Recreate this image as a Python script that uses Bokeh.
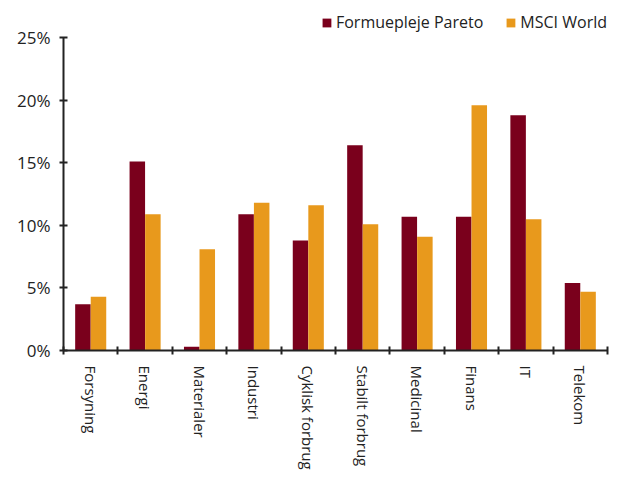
import numpy as np
from bokeh.plotting import figure
from bokeh.models import ColumnDataSource, FixedTicker, PrintfTickFormatter, Legend, LegendItem, Range1d
from bokeh.transform import dodge
from bokeh.embed import file_html
from bokeh.resources import INLINE

categories = ["Forsyning", "Energi", "Materialer", "Industri", "Cyklisk forbrug",
              "Stabilt forbrug", "Medicinal", "Finans", "IT", "Telekom"]
pareto = [3.7, 15.1, 0.3, 10.9, 8.8, 16.4, 10.7, 10.7, 18.8, 5.4]
msci = [4.3, 10.9, 8.1, 11.8, 11.6, 10.1, 9.1, 19.6, 10.5, 4.7]
y_ticks = [0, 5, 10, 15, 20, 25]
series_names = ["Formuepleje Pareto", "MSCI World"]
colors = ["#7A001C", "#E8991C"]

pos = np.arange(len(categories)) + 0.5
src = ColumnDataSource(dict(x=pos, pareto=pareto, msci=msci, cat=categories))

FONT = "Open Sans"
TXT = "#222222"

# axis spans 0..25 over 322 px; frame extends above to hold the legend
TOP = 11
y_max = 25 * (360 - TOP) / 322.0

p = figure(width=611, height=472, output_backend="svg", toolbar_location=None,
           x_range=Range1d(0, len(categories)), y_range=Range1d(0, y_max),
           min_border_left=63, min_border_right=4, min_border_top=TOP, min_border_bottom=112)
p.outline_line_color = None
p.grid.visible = False

r1 = p.vbar(x=dodge("x", -0.143, range=p.x_range), top="pareto", width=0.285, source=src,
            fill_color=colors[0], line_color=None)
r2 = p.vbar(x=dodge("x", 0.143, range=p.x_range), top="msci", width=0.285, source=src,
            fill_color=colors[1], line_color=None)

xa = p.xaxis[0]
xa.ticker = FixedTicker(ticks=list(pos), minor_ticks=list(range(len(categories) + 1)))
xa.major_label_overrides = {float(v): c for v, c in zip(pos, categories)}
xa.major_label_orientation = -np.pi / 2
xa.major_tick_in = 0
xa.major_tick_out = 0
xa.minor_tick_in = 4
xa.minor_tick_out = 4
xa.minor_tick_line_color = TXT
xa.minor_tick_line_width = 2
xa.major_label_standoff = 11
xa.major_label_text_font = FONT
xa.major_label_text_font_size = "15px"
xa.major_label_text_color = TXT
xa.axis_line_color = TXT
xa.axis_line_width = 2

ya = p.yaxis[0]
ya.ticker = FixedTicker(ticks=y_ticks, minor_ticks=[])
ya.bounds = (0, 25)
ya.formatter = PrintfTickFormatter(format="%d%%")
ya.major_tick_in = 4
ya.major_tick_out = 4
ya.major_tick_line_color = TXT
ya.major_tick_line_width = 2
ya.major_label_standoff = 9
ya.major_label_text_font = FONT
ya.major_label_text_font_size = "17px"
ya.major_label_text_color = TXT
ya.axis_line_color = TXT
ya.axis_line_width = 2

legend = Legend(items=[LegendItem(label=series_names[0], renderers=[r1]),
                       LegendItem(label=series_names[1], renderers=[r2])],
                orientation="horizontal", location="top_right",
                label_text_font=FONT, label_text_font_size="16px", label_text_color=TXT,
                glyph_width=11, glyph_height=11, label_standoff=4, spacing=22,
                padding=0, margin=0, border_line_color=None, background_fill_alpha=0)
p.add_layout(legend)

open("out.html", "w").write(file_html(p, INLINE))
